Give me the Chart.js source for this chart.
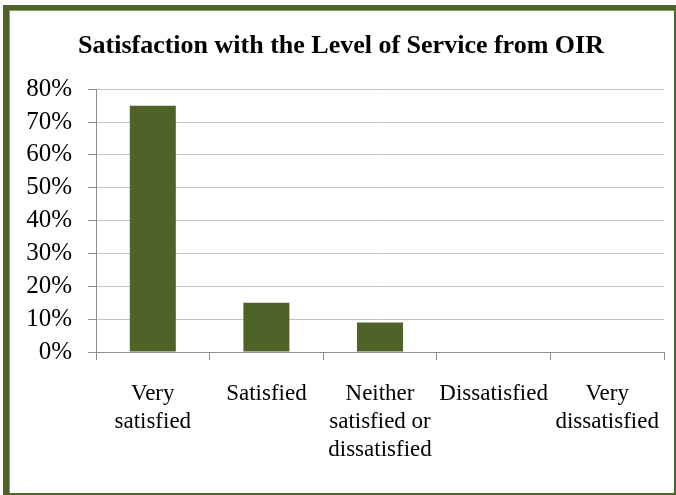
<!DOCTYPE html>
<html>
<head>
<meta charset="utf-8">
<title>Satisfaction with the Level of Service from OIR</title>
<script src="https://cdn.jsdelivr.net/npm/chart.js@4/dist/chart.umd.min.js"></script>
<style>
    html, body {
        margin: 0;
        padding: 0;
        background: #ffffff;
    }
    .frame {
        position: absolute;
        left: 3px;
        top: 5px;
        width: 665px;
        height: 483px;
        border-style: solid;
        border-color: #4f6228;
        border-width: 5px 2px 2px 6px;
        box-shadow: inset 1px 1px 0 #8a9c63;
    }
    .chart-box {
        position: absolute;
        left: 0;
        top: 0;
        width: 676px;
        height: 495px;
    }
</style>
</head>
<body>
<div class="frame"></div>
<div class="chart-box">
    <canvas id="serviceChart"></canvas>
</div>
<script>
// Survey responses (percent of respondents)
const categories = [
    ['Very', 'satisfied'],
    'Satisfied',
    ['Neither', 'satisfied or', 'dissatisfied'],
    'Dissatisfied',
    ['Very', 'dissatisfied']
];
const responseShare = [75, 15, 9, 0, 0];
const yTicks = [0, 10, 20, 30, 40, 50, 60, 70, 80];

const serifFont = "'Liberation Serif', 'Times New Roman', 'DejaVu Serif', serif";

document.addEventListener('DOMContentLoaded', function() {
    const ctx = document.getElementById('serviceChart').getContext('2d');
    new Chart(ctx, {
        type: 'bar',
        data: {
            labels: categories,
            datasets: [{
                label: 'Satisfaction',
                data: responseShare,
                backgroundColor: '#4f6228',
                barPercentage: 1,
                categoryPercentage: 0.405
            }]
        },
        options: {
            responsive: true,
            maintainAspectRatio: false,
            animation: false,
            layout: {
                padding: { top: 31, right: 12, bottom: 0, left: 18 }
            },
            plugins: {
                legend: { display: false },
                tooltip: { enabled: false },
                title: {
                    display: true,
                    text: 'Satisfaction with the Level of Service from OIR',
                    color: '#000000',
                    font: { family: serifFont, size: 26, weight: 'bold' },
                    padding: { top: 0, bottom: 27 }
                }
            },
            scales: {
                x: {
                    grid: {
                        drawOnChartArea: false,
                        tickLength: 8,
                        tickColor: '#8c8c8c',
                        color: '#8c8c8c'
                    },
                    border: { color: '#8c8c8c' },
                    ticks: {
                        color: '#000000',
                        autoSkip: false,
                        maxRotation: 0,
                        padding: 20,
                        font: { family: serifFont, size: 23, lineHeight: 1.22 }
                    },
                    afterFit: function(scale) {
                        // labels may spill past the plot edges, keep the plot width fixed
                        scale.height = 143;
                        scale.paddingLeft = 0;
                        scale.paddingRight = 0;
                    }
                },
                y: {
                    min: 0,
                    max: 80,
                    afterBuildTicks: function(scale) {
                        scale.ticks = yTicks.map(v => ({ value: v }));
                    },
                    grid: {
                        color: '#c4c4c4',
                        tickLength: 8,
                        tickColor: '#8c8c8c'
                    },
                    border: { color: '#8c8c8c' },
                    ticks: {
                        color: '#000000',
                        autoSkip: false,
                        padding: 16,
                        font: { family: serifFont, size: 25 },
                        callback: function(value) {
                            return value + '%';
                        }
                    },
                    afterFit: function(scale) {
                        scale.width = 78;
                    }
                }
            }
        }
    });
});
</script>
</body>
</html>
